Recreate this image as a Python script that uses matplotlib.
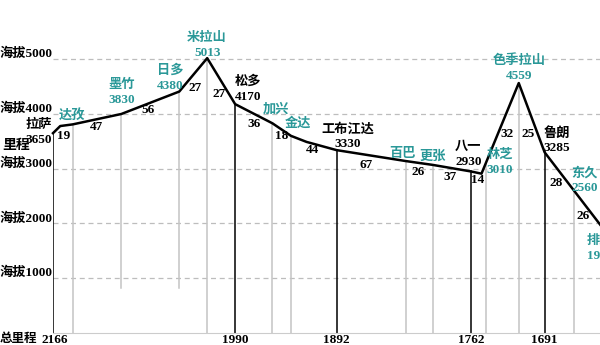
import numpy as np
import matplotlib
matplotlib.use("Agg")
import matplotlib.pyplot as plt

# towns along the road, distance between neighbours (km)
towns = ["拉萨", "达孜", "墨竹", "日多", "米拉山", "松多", "加兴", "金达", "工布江达",
         "百巴", "更张", "八一", "林芝", "色季拉山", "鲁朗", "东久", "排龙"]
seg_km = [19, 47, 56, 27, 27, 36, 18, 44, 67, 26, 37, 14, 32, 25, 28, 26]
alt_text = ["3650", "", "3830", "4380", "5013", "4170", "", "", "3330",
            "", "", "2930", "3010", "4559", "3285", "2560", "19"]
total_start = 2166
mileage_towns = ["拉萨", "松多", "工布江达", "八一", "鲁朗"]

# drawn elevation profile (km from Lhasa, metres)
prof_km = [0, 7, 19, 66, 122, 149, 176, 212, 230, 245, 274, 341, 367, 404, 414, 450, 475, 503, 529]
prof_alt = [3650, 3780, 3810, 4000, 4410, 5020, 4180, 3830, 3600, 3490, 3340, 3140, 3070,
            2950, 2910, 4565, 3300, 2610, 1970]

grid_levels = [1000, 2000, 3000, 4000, 5000]

town_km = np.concatenate([[0], np.cumsum(seg_km)])
teal = "#2a9898"
font = ["Liberation Serif", "Noto Sans CJK SC", "DejaVu Sans"]

W, H = 600, 345
fig = plt.figure(figsize=(6, 3.45), dpi=100)
ax = fig.add_axes([53 / W, 12 / H, 547 / W, 333 / H])
ax.set_xlim(0, 528.5)
ax.set_ylim(0, 6082)
ax.set_xticks([])
ax.set_yticks([])
for s in ["left", "right", "top"]:
    ax.spines[s].set_visible(False)
ax.spines["bottom"].set_color("#cccccc")

for lv in grid_levels:
    ax.axhline(lv, color="#bdbdbd", lw=0.9, ls=(0, (4, 3)), zorder=1)
    ax.annotate(f"海拔{lv}", (0, lv), xytext=(-1, 5), textcoords="offset pixels",
                ha="right", va="center", fontsize=9.5, fontweight="bold",
                family=font, annotation_clip=False)

# vertical lines from profile down
short = ["墨竹", "日多"]
for name, km in zip(towns, town_km):
    top = np.interp(km, prof_km, prof_alt)
    if name in mileage_towns:
        ax.plot([km, km], [0, top], color="black", lw=1.1, zorder=2)
    else:
        bot = 820 if name in short else 0
        ax.plot([km, km], [bot, top], color="#c4c4c4", lw=1.1, zorder=2)

ax.plot(prof_km, prof_alt, color="black", lw=1.8, zorder=3, clip_on=False)

# mileage along the bottom
for name in mileage_towns:
    km = town_km[towns.index(name)]
    ax.annotate(str(total_start - int(km)), (km, 0), xytext=(2 if km == 0 else 0, -7),
                textcoords="offset pixels", ha="center", va="center", fontsize=9.5,
                fontweight="bold", family=font, annotation_clip=False)
fig.text(0 / W, 1 - 339 / H, "总里程", ha="left", va="center", fontsize=9,
         fontweight="bold", family=font)
fig.text(2 / W, 1 - 145 / H, "里程", ha="left", va="center", fontsize=10,
         fontweight="bold", family=font)


def put(x, y, s, color="black", ha="center", size=9.5):
    fig.text(x / W, 1 - y / H, s, ha=ha, va="center", color=color, fontsize=size,
             fontweight="bold", family=font)


# segment distance labels
seg_pos = [(64, 136), (97, 127), (148, 110), (195, 88), (219, 94), (254, 124), (282, 136),
           (313, 150), (366, 165), (418, 172), (450, 177), (478, 180), (507, 134),
           (528, 134), (556, 183), (583, 216)]
for d, (x, y) in zip(seg_km, seg_pos):
    put(x, y, str(d))

# town names and altitudes
black_towns = ["拉萨", "松多", "工布江达", "八一", "鲁朗"]
name_pos = {"拉萨": (39, 125), "达孜": (72, 116), "墨竹": (122, 85), "日多": (170, 71),
            "米拉山": (207, 38), "松多": (248, 82), "加兴": (276, 110), "金达": (298, 123),
            "工布江达": (348, 129), "百巴": (403, 154), "更张": (433, 157), "八一": (468, 147),
            "林芝": (500, 155), "色季拉山": (519, 61), "鲁朗": (557, 133), "东久": (585, 173),
            "排龙": (587, 241)}
for name, alt in zip(towns, alt_text):
    c = "black" if name in black_towns else teal
    x, y = name_pos[name]
    ha = "left" if name == "排龙" else "center"
    put(x, y, name, c, ha, 9.5)
    if alt:
        put(x + (1 if name in ("米拉山", "八一") else 0), y + 15, alt, c, ha)

fig.savefig("out.png", dpi=100)
